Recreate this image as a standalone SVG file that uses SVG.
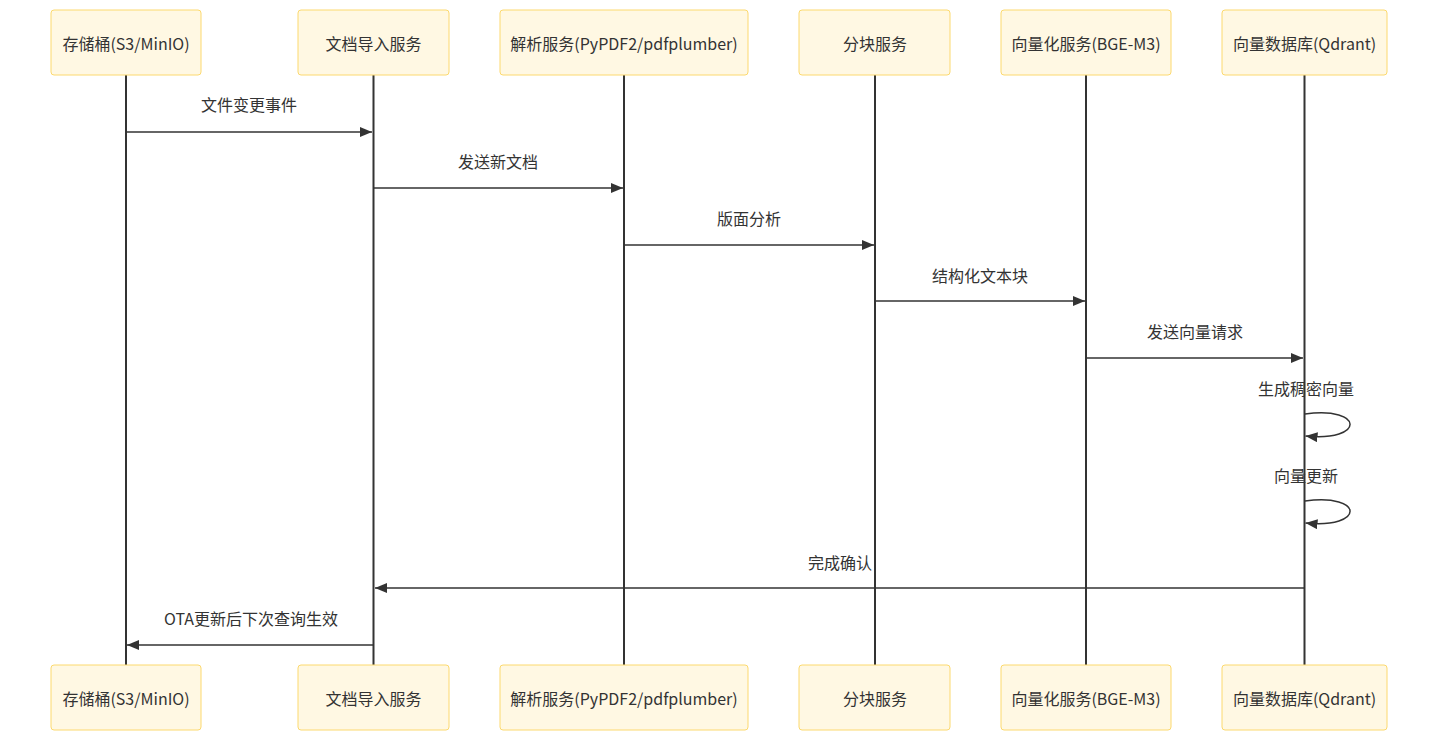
<svg xmlns="http://www.w3.org/2000/svg" width="1438" height="742" viewBox="0 0 1438 742">
<style>
.actor rect{fill:#fff8e3;stroke:#fcd96e;stroke-width:1}
.t{font-family:"Noto Sans CJK SC","Noto Sans",sans-serif;font-size:16px;fill:#333;text-anchor:middle;dominant-baseline:central}
.life{stroke:#333;stroke-width:2}
.msg{stroke:#333;stroke-width:1.5;fill:none}
</style>
<defs>
<marker id="ah" viewBox="0 0 12 10" refX="12" refY="5" markerWidth="12" markerHeight="10" markerUnits="userSpaceOnUse" orient="auto">
<path d="M0,0 L12,5 L0,10 z" fill="#333"/>
</marker>
</defs>
<g id="lifelines">
<line class="life" x1="126" y1="75" x2="126" y2="665"/>
<line class="life" x1="373.5" y1="75" x2="373.5" y2="665"/>
<line class="life" x1="624" y1="75" x2="624" y2="665"/>
<line class="life" x1="875" y1="75" x2="875" y2="665"/>
<line class="life" x1="1086" y1="75" x2="1086" y2="665"/>
<line class="life" x1="1304.5" y1="75" x2="1304.5" y2="665"/>
</g>
<g id="a1" class="actor"><rect x="51" y="10" width="150" height="65" rx="3"/><text class="t" x="126" y="43">存储桶(S3/MinIO)</text></g>
<g id="a2" class="actor"><rect x="298" y="10" width="151" height="65" rx="3"/><text class="t" x="373.5" y="43">文档导入服务</text></g>
<g id="a3" class="actor"><rect x="500" y="10" width="248" height="65" rx="3"/><text class="t" x="624" y="43">解析服务(PyPDF2/pdfplumber)</text></g>
<g id="a4" class="actor"><rect x="799" y="10" width="151" height="65" rx="3"/><text class="t" x="875" y="43">分块服务</text></g>
<g id="a5" class="actor"><rect x="1001" y="10" width="170" height="65" rx="3"/><text class="t" x="1086" y="43">向量化服务(BGE-M3)</text></g>
<g id="a6" class="actor"><rect x="1222" y="10" width="165" height="65" rx="3"/><text class="t" x="1304.5" y="43">向量数据库(Qdrant)</text></g>
<g id="b1" class="actor"><rect x="51" y="665" width="150" height="65" rx="3"/><text class="t" x="126" y="698">存储桶(S3/MinIO)</text></g>
<g id="b2" class="actor"><rect x="298" y="665" width="151" height="65" rx="3"/><text class="t" x="373.5" y="698">文档导入服务</text></g>
<g id="b3" class="actor"><rect x="500" y="665" width="248" height="65" rx="3"/><text class="t" x="624" y="698">解析服务(PyPDF2/pdfplumber)</text></g>
<g id="b4" class="actor"><rect x="799" y="665" width="151" height="65" rx="3"/><text class="t" x="875" y="698">分块服务</text></g>
<g id="b5" class="actor"><rect x="1001" y="665" width="170" height="65" rx="3"/><text class="t" x="1086" y="698">向量化服务(BGE-M3)</text></g>
<g id="b6" class="actor"><rect x="1222" y="665" width="165" height="65" rx="3"/><text class="t" x="1304.5" y="698">向量数据库(Qdrant)</text></g>
<g id="connectors">
<text class="t" x="249" y="104">文件变更事件</text>
<line class="msg" x1="126" y1="132" x2="372" y2="132" marker-end="url(#ah)"/>
<text class="t" x="498" y="161">发送新文档</text>
<line class="msg" x1="373.5" y1="188" x2="623" y2="188" marker-end="url(#ah)"/>
<text class="t" x="749" y="218">版面分析</text>
<line class="msg" x1="624" y1="245" x2="874" y2="245" marker-end="url(#ah)"/>
<text class="t" x="980" y="275">结构化文本块</text>
<line class="msg" x1="875" y1="301" x2="1085" y2="301" marker-end="url(#ah)"/>
<text class="t" x="1195" y="331">发送向量请求</text>
<line class="msg" x1="1086" y1="358" x2="1303" y2="358" marker-end="url(#ah)"/>
<text class="t" x="1306" y="388">生成稠密向量</text>
<path class="msg" d="M1305,414 C1365,406 1365,442 1305.5,436" marker-end="url(#ah)"/>
<text class="t" x="1306" y="475">向量更新</text>
<path class="msg" d="M1305,501 C1365,493 1365,529 1305.5,523" marker-end="url(#ah)"/>
<text class="t" x="840" y="562">完成确认</text>
<line class="msg" x1="1304.5" y1="588" x2="375" y2="588" marker-end="url(#ah)"/>
<text class="t" x="251" y="618">OTA更新后下次查询生效</text>
<line class="msg" x1="373.5" y1="645" x2="127" y2="645" marker-end="url(#ah)"/>
</g>
</svg>
